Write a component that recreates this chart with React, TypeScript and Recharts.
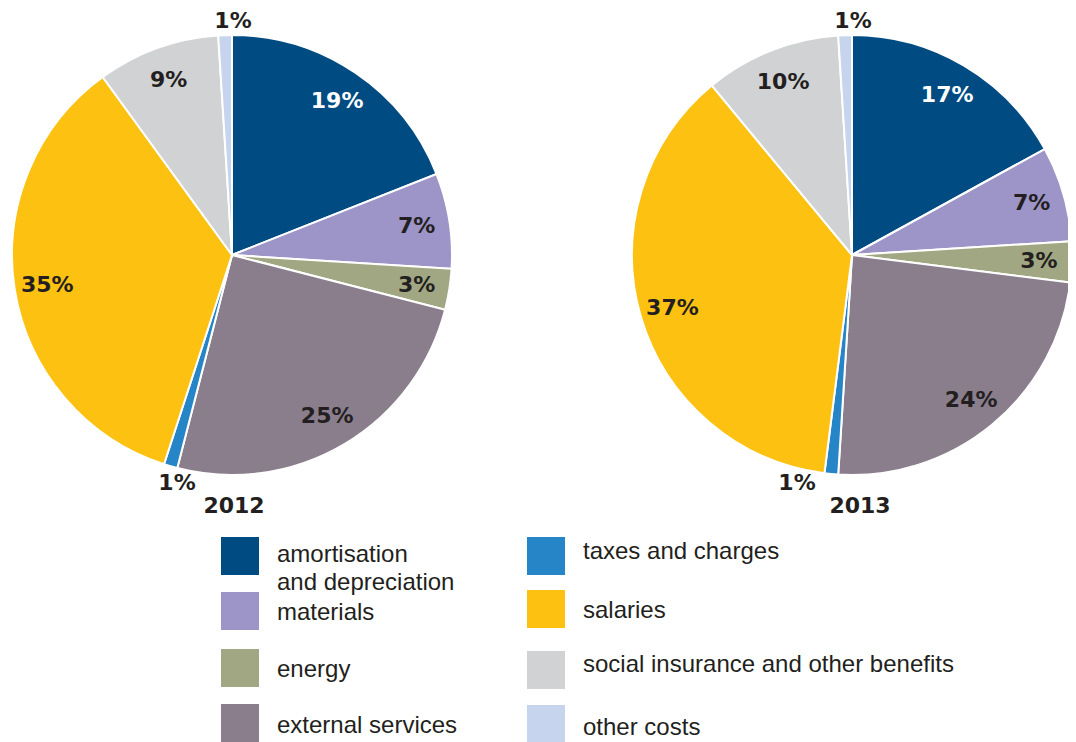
import { PieChart, Pie, Cell } from "recharts"

const categories = [
  "amortisation and depreciation",
  "materials",
  "energy",
  "external services",
  "taxes and charges",
  "salaries",
  "social insurance and other benefits",
  "other costs",
]
const colors = ["#004b82", "#9d95c8", "#a1a783", "#8a7e8d", "#2585c7", "#fdc112", "#d1d2d4", "#c6d4ed"]
const values2012 = [19, 7, 3, 25, 1, 35, 9, 1]
const values2013 = [17, 7, 3, 24, 1, 37, 10, 1]
const years = ["2012", "2013"]

const data2012 = categories.map((name, i) => ({ name, value: values2012[i] }))
const data2013 = categories.map((name, i) => ({ name, value: values2013[i] }))

const RADIAN = Math.PI / 180
const ink = "#231f20"
const font = "'Liberation Sans', Arial, sans-serif"
const boldFont = "'DejaVu Sans', sans-serif"

const renderLabel = (props: any) => {
  const { cx, cy, midAngle, outerRadius, value, index } = props
  let x: number
  let y: number
  if (value <= 1) {
    // tiny slices: label sits just outside the rim
    const lower = Math.sin(-midAngle * RADIAN) > 0
    x = lower ? cx - 55 : cx + 1
    y = lower ? cy + 227 : cy - 235
  } else {
    const r = outerRadius * 0.85
    x = cx + r * Math.cos(-midAngle * RADIAN)
    y = cy + r * Math.sin(-midAngle * RADIAN)
  }
  return (
    <text
      x={x}
      y={y}
      textAnchor="middle"
      dominantBaseline="central"
      fill={index === 0 ? "#ffffff" : ink}
      fontSize={22}
      fontWeight="bold"
      fontFamily={boldFont}
    >
      {value}%
    </text>
  )
}

// legend: left column first four, right column the rest
const legendLeft = [
  { i: 0, top: 529, lines: ["amortisation", "and depreciation"] },
  { i: 1, top: 584, lines: ["materials"] },
  { i: 2, top: 641, lines: ["energy"] },
  { i: 3, top: 696, lines: ["external services"] },
]
const legendRight = [
  { i: 4, top: 529, lines: ["taxes and charges"] },
  { i: 5, top: 582, lines: ["salaries"] },
  { i: 6, top: 643, lines: ["social insurance and other benefits"] },
  { i: 7, top: 697, lines: ["other costs"] },
]

function LegendItem({ left, top, i, lines, textTop }: any) {
  return (
    <div style={{ position: "absolute", left, top }}>
      <div style={{ position: "absolute", left: 0, top: 0, width: 38, height: 38, background: colors[i] }} />
      <div
        style={{
          position: "absolute",
          left: 56,
          top: textTop,
          fontFamily: font,
          fontSize: 24,
          lineHeight: "28px",
          color: ink,
          whiteSpace: "nowrap",
        }}
      >
        {lines.map((l: string) => (
          <div key={l}>{l}</div>
        ))}
      </div>
    </div>
  )
}

const textTops: Record<number, number> = { 0: 3, 1: 6, 2: 6, 3: 7, 4: 0, 5: 6, 6: -1, 7: 8 }

export default function App() {
  return (
    <div style={{ position: "relative", width: 1068, height: 734, background: "#fff" }}>
      <PieChart width={1068} height={520} margin={{ top: 0, right: 0, bottom: 0, left: 0 }}>
        <Pie
          data={data2012}
          dataKey="value"
          cx={224}
          cy={247}
          outerRadius={220}
          startAngle={90}
          endAngle={-270}
          stroke="#ffffff"
          strokeWidth={2}
          label={renderLabel}
          labelLine={false}
          isAnimationActive={false}
        >
          {data2012.map((d, i) => (
            <Cell key={d.name} fill={colors[i]} />
          ))}
        </Pie>
        <Pie
          data={data2013}
          dataKey="value"
          cx={844}
          cy={247}
          outerRadius={220}
          startAngle={90}
          endAngle={-270}
          stroke="#ffffff"
          strokeWidth={2}
          label={renderLabel}
          labelLine={false}
          isAnimationActive={false}
        >
          {data2013.map((d, i) => (
            <Cell key={d.name} fill={colors[i]} />
          ))}
        </Pie>
        <text x={226} y={497} textAnchor="middle" dominantBaseline="central" fontSize={22} fontWeight="bold" fill={ink} fontFamily={boldFont}>
          {years[0]}
        </text>
        <text x={852} y={497} textAnchor="middle" dominantBaseline="central" fontSize={22} fontWeight="bold" fill={ink} fontFamily={boldFont}>
          {years[1]}
        </text>
      </PieChart>
      {legendLeft.map((it) => (
        <LegendItem key={it.i} left={213} top={it.top} i={it.i} lines={it.lines} textTop={textTops[it.i]} />
      ))}
      {legendRight.map((it) => (
        <LegendItem key={it.i} left={519} top={it.top} i={it.i} lines={it.lines} textTop={textTops[it.i]} />
      ))}
    </div>
  )
}
